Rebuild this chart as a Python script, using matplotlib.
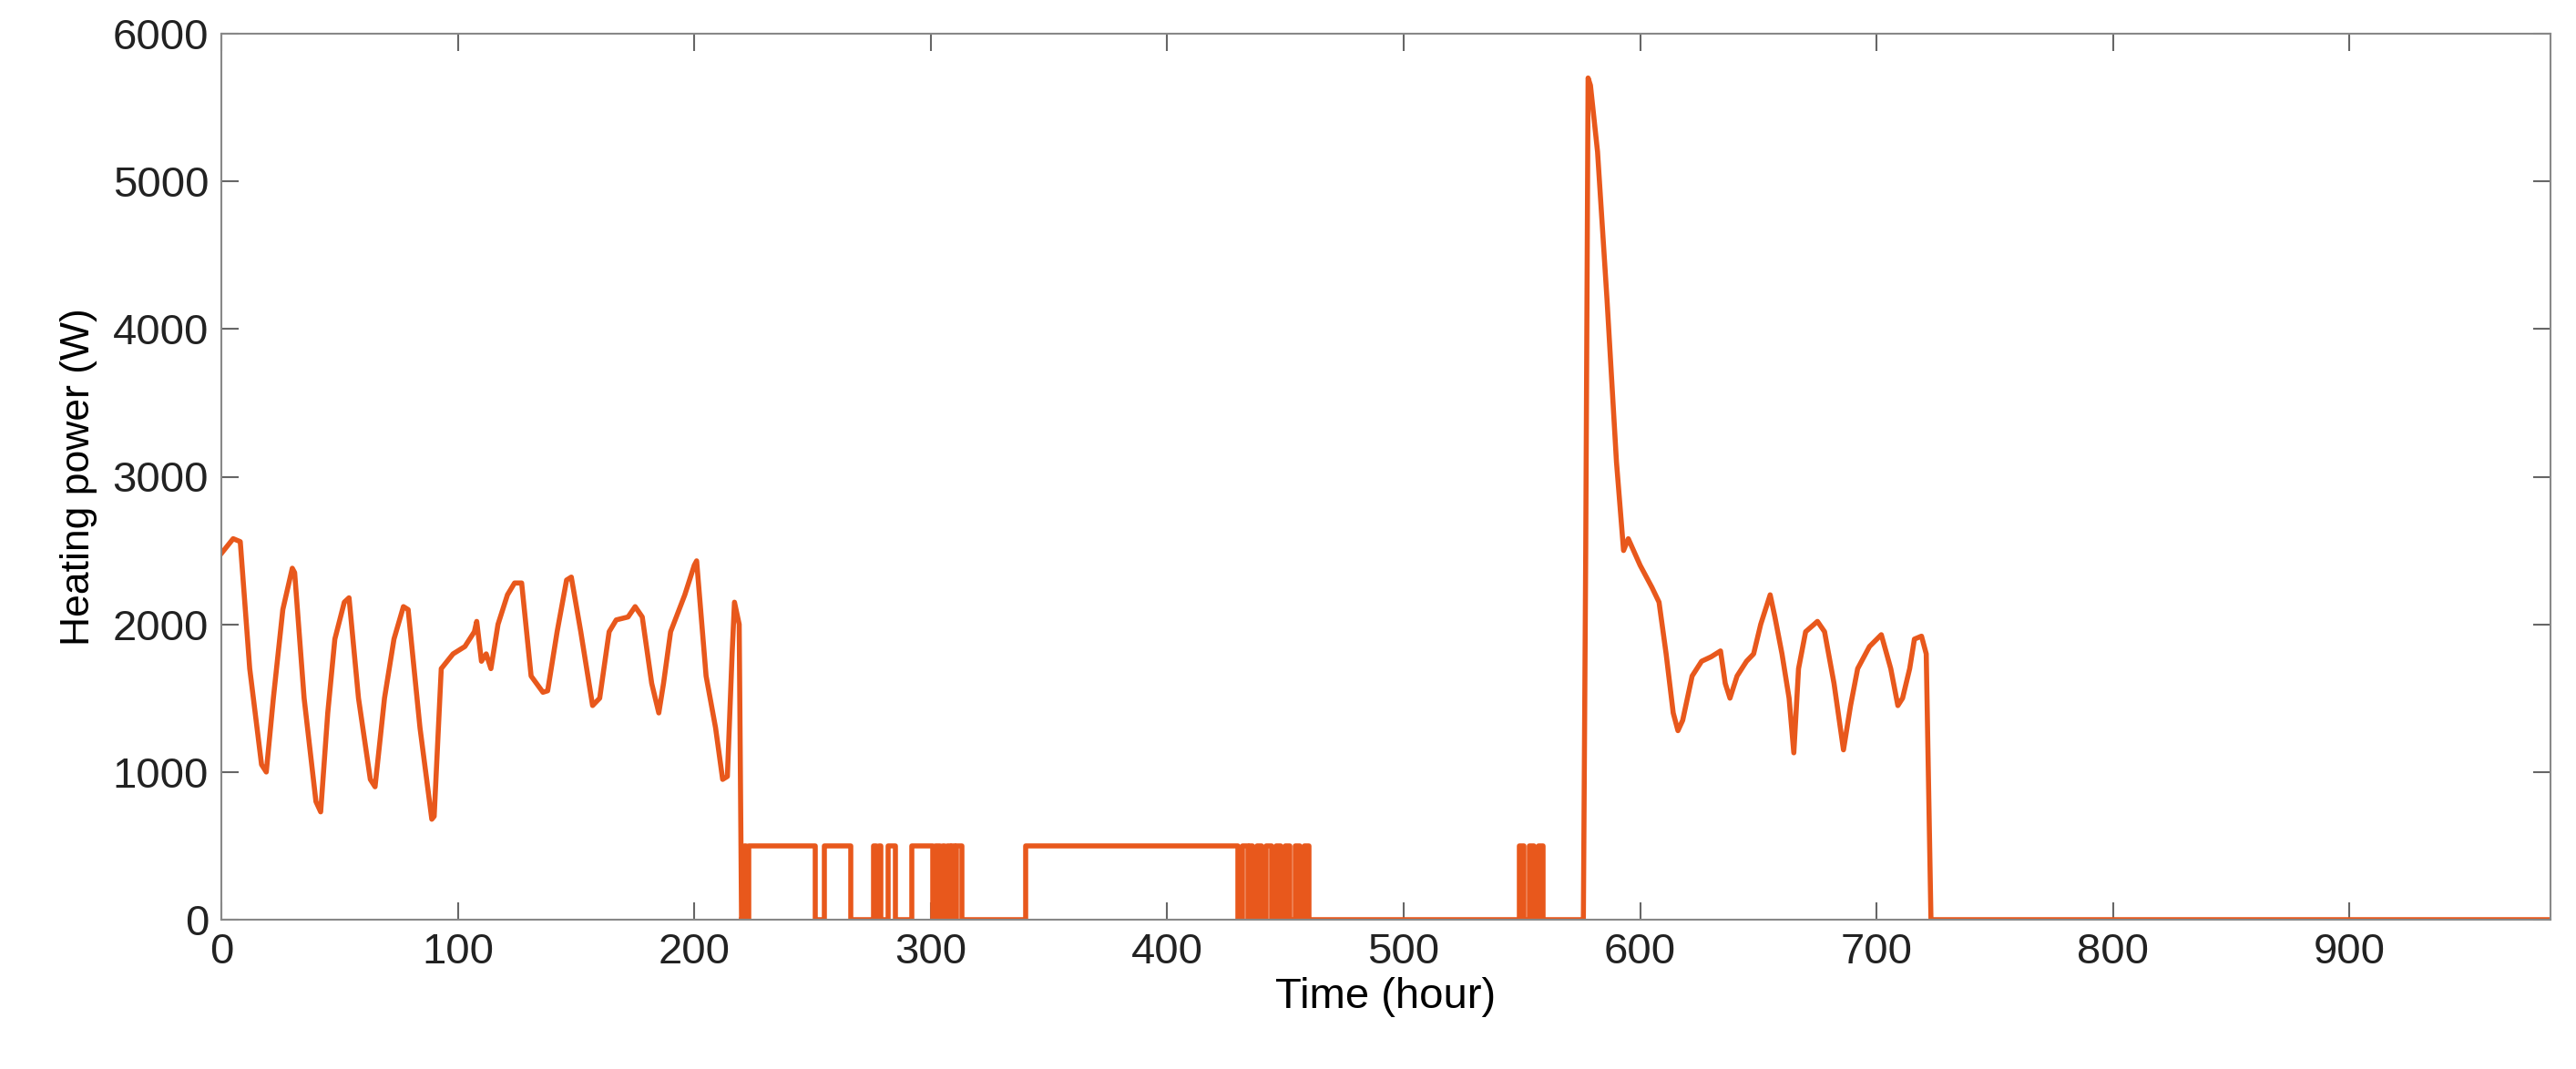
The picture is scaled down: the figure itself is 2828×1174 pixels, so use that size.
import matplotlib.pyplot as plt

plt.rcParams['font.family'] = ['Liberation Sans', 'DejaVu Sans']

# heating period 1 (hours, W)
t1 = [0, 5, 8, 12, 17, 19, 22, 26, 30, 31, 35, 40, 42, 45, 48, 52, 54, 58, 63, 65, 69, 73, 77, 79,
      84, 89, 90, 93, 98, 103, 107, 108, 110, 112, 114, 117, 121, 124, 127, 131, 136, 138, 142, 146,
      148, 152, 157, 160, 164, 167, 172, 175, 178, 182, 185, 187, 190, 196, 200, 201, 205, 209, 212,
      214, 216, 217, 219, 220]
p1 = [2480, 2580, 2560, 1700, 1050, 1000, 1500, 2100, 2380, 2350, 1500, 800, 730, 1400, 1900, 2150,
      2180, 1500, 950, 900, 1500, 1900, 2120, 2100, 1300, 680, 700, 1700, 1800, 1850, 1950, 2020,
      1750, 1800, 1700, 2000, 2200, 2280, 2280, 1650, 1540, 1550, 1950, 2300, 2320, 1950, 1450, 1500,
      1950, 2030, 2050, 2120, 2050, 1600, 1400, 1600, 1950, 2200, 2400, 2430, 1650, 1300, 950, 970,
      1800, 2150, 2000, 0]

# on/off period (step changes)
t_step = [220, 221, 222, 223, 251, 253, 255, 256, 266, 269, 276, 277, 278, 279, 282, 285, 292, 294,
          301, 302, 304, 305, 306, 307, 308, 309, 310, 311, 313, 340, 430, 432, 434, 435, 436, 438,
          440, 442, 444, 446, 448, 450, 452, 454, 456, 458, 460, 462, 549, 551, 553, 555, 557, 559,
          562, 576]
p_step = [0, 500, 0, 500, 0, 0, 500, 500, 0, 0, 500, 0, 500, 0, 500, 0, 500, 500, 0, 500, 0, 500,
          0, 500, 0, 500, 0, 500, 0, 500, 0, 500, 0, 500, 0, 500, 0, 500, 0, 500, 0, 500, 0, 500, 0,
          500, 0, 0, 500, 0, 500, 0, 500, 0, 0, 0]

# heating period 2
t2 = [576, 577, 578, 579, 582, 586, 590, 593, 595, 600, 605, 608, 611, 614, 616, 618, 622, 626, 630,
      634, 636, 638, 641, 645, 648, 651, 655, 657, 660, 663, 665, 667, 670, 675, 678, 682, 686, 689,
      692, 697, 702, 706, 709, 711, 714, 716, 719, 721, 723, 985]
p2 = [0, 2500, 5700, 5650, 5200, 4200, 3100, 2500, 2580, 2400, 2250, 2150, 1800, 1400, 1280, 1350,
      1650, 1750, 1780, 1820, 1600, 1500, 1650, 1750, 1800, 2000, 2200, 2050, 1800, 1500, 1130, 1700,
      1950, 2020, 1950, 1600, 1150, 1450, 1700, 1850, 1930, 1700, 1450, 1500, 1700, 1900, 1920, 1800,
      0, 0]

color = '#E8581C'
fig = plt.figure(figsize=(28.28, 11.74), dpi=100)
ax = fig.add_axes([243 / 2828, 1 - 1010 / 1174, (2800 - 243) / 2828, (1010 - 37) / 1174])
ax.plot(t1, p1, color=color, lw=4)
ax.plot(t_step, p_step, color=color, lw=4, drawstyle='steps-post')
ax.plot(t2, p2, color=color, lw=4)

ax.set_xlim(0, 985)
ax.set_ylim(0, 6000)
ax.set_xticks(range(0, 901, 100))
ax.set_yticks(range(0, 6001, 1000))
ax.tick_params(direction='in', top=True, right=True, length=14, width=1.5, color='#666666',
               labelsize=34, labelcolor='#222222', pad=10)
for s in ax.spines.values():
    s.set_color('#888888')
    s.set_linewidth(1.5)
ax.set_xlabel('Time (hour)', fontsize=34, labelpad=4)
ax.set_ylabel('Heating power (W)', fontsize=32, labelpad=12)
fig.savefig('out.png', dpi=100)
